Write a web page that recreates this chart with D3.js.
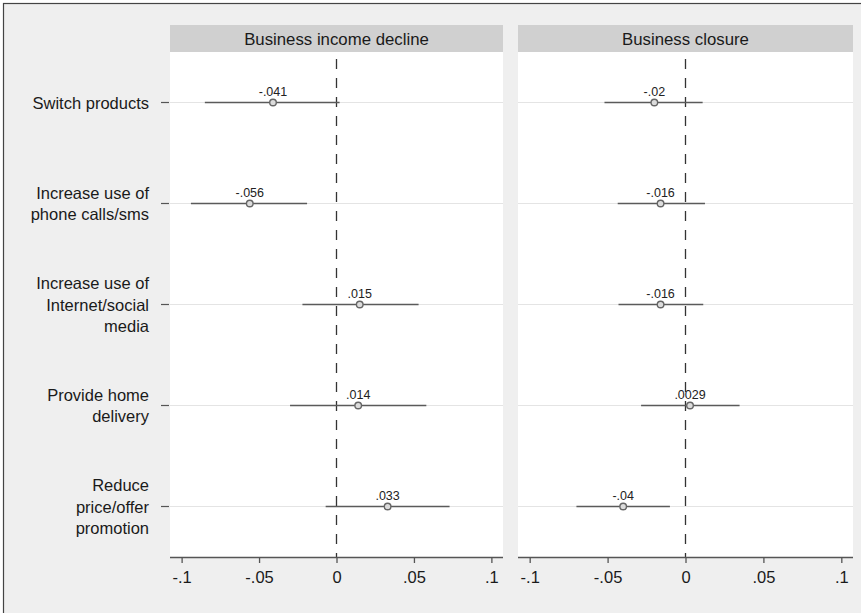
<!DOCTYPE html>
<html>
<head>
<meta charset="utf-8">
<script src="https://cdn.jsdelivr.net/npm/d3@7"></script>
<style>
  html, body { margin: 0; padding: 0; background: #ffffff; }
  svg { display: block; font-family: "Liberation Sans", Arial, Helvetica, sans-serif; }
</style>
</head>
<body>
<svg id="chart" width="861" height="613"></svg>
<script>
// ---- data ----
const categories = ["Switch products", "Increase use of phone calls/sms", "Increase use of Internet/social media", "Provide home delivery", "Reduce price/offer promotion"];
const categoryLines = [
  ["Switch products"],
  ["Increase use of", "phone calls/sms"],
  ["Increase use of", "Internet/social", "media"],
  ["Provide home", "delivery"],
  ["Reduce", "price/offer", "promotion"]
];
const panels = ["Business income decline", "Business closure"];
const incomeEst = [-0.041, -0.056, 0.015, 0.014, 0.033];
const incomeLo  = [-0.085, -0.094, -0.022, -0.030, -0.007];
const incomeHi  = [0.002, -0.019, 0.053, 0.058, 0.073];
const incomeLabels = ["-.041", "-.056", ".015", ".014", ".033"];
const closureEst = [-0.02, -0.016, -0.016, 0.0029, -0.04];
const closureLo  = [-0.052, -0.0435, -0.043, -0.0285, -0.070];
const closureHi  = [0.011, 0.0125, 0.0114, 0.0347, -0.010];
const closureLabels = ["-.02", "-.016", "-.016", ".0029", "-.04"];
const xTicks = [-0.1, -0.05, 0, 0.05, 0.1];
const xTickLabels = ["-.1", "-.05", "0", ".05", ".1"];

const panelData = [
  { title: panels[0], est: incomeEst, lo: incomeLo, hi: incomeHi, labels: incomeLabels },
  { title: panels[1], est: closureEst, lo: closureLo, hi: closureHi, labels: closureLabels }
];

// ---- layout ----
const svg = d3.select("#chart");
svg.append("rect").attr("x", 0).attr("y", 0).attr("width", 861).attr("height", 613).attr("fill", "#ffffff");
svg.append("rect").attr("x", 3.5).attr("y", 3.5).attr("width", 870).attr("height", 620)
  .attr("fill", "#efefef").attr("stroke", "#444").attr("stroke-width", 1.2);

const stripTop = 25, plotTop = 52, plotBottom = 557;
const panelX = [[170, 503], [518, 853]];

const y = d3.scaleLinear().domain([0.5, categories.length + 0.5]).range([plotTop, plotBottom]);

panelData.forEach((p, pi) => {
  const [x0, x1] = panelX[pi];
  const x = d3.scaleLinear().domain([-0.1075, 0.1075]).range([x0, x1]);
  const g = svg.append("g");

  // strip
  g.append("rect").attr("x", x0).attr("y", stripTop).attr("width", x1 - x0).attr("height", plotTop - stripTop)
    .attr("fill", "#d0d0d0");
  g.append("text").attr("x", (x0 + x1) / 2).attr("y", stripTop + 19.5)
    .attr("text-anchor", "middle").attr("font-size", 16.8).attr("fill", "#1a1a1a").text(p.title);

  // plot area
  g.append("rect").attr("x", x0).attr("y", plotTop).attr("width", x1 - x0).attr("height", plotBottom - plotTop)
    .attr("fill", "#ffffff");

  // gridlines
  g.selectAll(".grid").data(categories).enter().append("line")
    .attr("x1", x0).attr("x2", x1)
    .attr("y1", (d, i) => y(i + 1)).attr("y2", (d, i) => y(i + 1))
    .attr("stroke", "#e4e4e4").attr("stroke-width", 1);

  // zero reference line
  g.append("line").attr("x1", x(0)).attr("x2", x(0)).attr("y1", plotTop + 7).attr("y2", plotBottom)
    .attr("stroke", "#333").attr("stroke-width", 1.3).attr("stroke-dasharray", "10,9");

  // x axis
  const axis = d3.axisBottom(x).tickValues(xTicks).tickSize(6).tickPadding(8)
    .tickFormat((d, i) => xTickLabels[i]);
  const ag = g.append("g").attr("transform", `translate(0,${plotBottom})`).call(axis);
  ag.select(".domain").attr("stroke", "#555").attr("stroke-width", 1.5).attr("d", `M${x0},0.5H${x1}`);
  ag.selectAll(".tick line").attr("stroke", "#555").attr("stroke-width", 1.3);
  ag.selectAll(".tick text").attr("font-size", 16.5).attr("fill", "#1a1a1a")
    .attr("font-family", "'Liberation Sans', Arial, sans-serif");

  // CI lines
  g.selectAll(".ci").data(p.est).enter().append("line")
    .attr("x1", (d, i) => x(p.lo[i])).attr("x2", (d, i) => x(p.hi[i]))
    .attr("y1", (d, i) => y(i + 1)).attr("y2", (d, i) => y(i + 1))
    .attr("stroke", "#5a5a5a").attr("stroke-width", 1.6);

  // points
  g.selectAll(".pt").data(p.est).enter().append("circle")
    .attr("cx", d => x(d)).attr("cy", (d, i) => y(i + 1)).attr("r", 3.3)
    .attr("fill", "#dcdcdc").attr("stroke", "#666").attr("stroke-width", 1.4);

  // point labels
  g.selectAll(".pl").data(p.est).enter().append("text")
    .attr("x", d => x(d)).attr("y", (d, i) => y(i + 1) - 7)
    .attr("text-anchor", "middle").attr("font-size", 12.5).attr("fill", "#222")
    .text((d, i) => p.labels[i]);

  // y axis on left panel only
  if (pi === 0) {
    g.selectAll(".yt").data(categories).enter().append("line")
      .attr("x1", x0 - 9).attr("x2", x0 - 1)
      .attr("y1", (d, i) => y(i + 1)).attr("y2", (d, i) => y(i + 1))
      .attr("stroke", "#555").attr("stroke-width", 1.2);
    const lineH = 21.5;
    categoryLines.forEach((lines, i) => {
      const t = g.append("text").attr("text-anchor", "end").attr("font-size", 16.5).attr("fill", "#1a1a1a");
      const n = lines.length;
      lines.forEach((ln, k) => {
        t.append("tspan").attr("x", 149)
          .attr("y", y(i + 1) + 6 + (k - (n - 1) / 2) * lineH)
          .text(ln);
      });
    });
  }
});
</script>
</body>
</html>
